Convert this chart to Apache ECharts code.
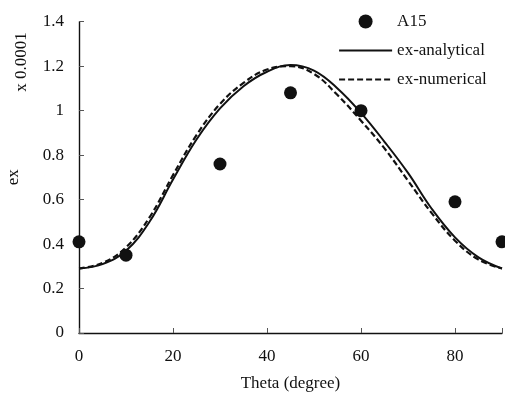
<!DOCTYPE html>
<html>
<head>
<meta charset="utf-8">
<script src="https://cdn.jsdelivr.net/npm/echarts@6/dist/echarts.min.js"></script>
<style>
  html, body { margin: 0; padding: 0; background: #fff; }
  #chart { width: 505px; height: 393px; }
</style>
</head>
<body>
<div id="chart"></div>
<script>
// Measured strain ex (units of 1e-4) at sample angles
const thetaA15 = [0, 10, 30, 45, 60, 80, 90];
const exA15 = [0.41, 0.35, 0.76, 1.08, 1.00, 0.59, 0.41];

// Model curves sampled every 5 degrees
const thetaCurve = [0, 5, 10, 15, 20, 25, 30, 35, 40, 45, 50, 55, 60, 65, 70, 75, 80, 85, 90];
const exAnalytical = [0.29, 0.31, 0.37, 0.50, 0.69, 0.87, 1.01, 1.11, 1.175, 1.205, 1.18, 1.10, 0.99, 0.86, 0.72, 0.56, 0.43, 0.34, 0.29];
const exNumerical  = [0.29, 0.315, 0.385, 0.52, 0.71, 0.89, 1.03, 1.125, 1.185, 1.20, 1.165, 1.07, 0.955, 0.83, 0.685, 0.54, 0.415, 0.33, 0.29];

const xTicks = [0, 20, 40, 60, 80];

const serif = 'Liberation Serif';
const ink = '#111';
const dash = [6, 3];
const pair = (xs, ys) => xs.map((x, i) => [x, ys[i]]);

const chart = echarts.init(document.getElementById('chart'));
chart.setOption({
  animation: false,
  backgroundColor: '#fff',
  textStyle: { fontFamily: serif, color: ink },
  grid: { left: 79, right: 3, top: 21.7, bottom: 60, outerBoundsMode: 'none', containLabel: false },
  legend: {
    orient: 'vertical',
    left: 333,
    top: 8,
    itemWidth: 53,
    itemHeight: 14,
    itemGap: 12,
    textStyle: { fontFamily: serif, fontSize: 17, color: ink },
    data: [
      { name: 'A15', icon: 'circle', itemStyle: { color: ink, opacity: 1 } },
      { name: 'ex-analytical', itemStyle: { opacity: 0 }, lineStyle: { color: ink, width: 2 } },
      { name: 'ex-numerical', itemStyle: { opacity: 0 }, lineStyle: { color: ink, width: 2.2, type: dash } }
    ]
  },
  xAxis: {
    type: 'value',
    min: 0, max: 90, interval: 20,
    name: 'Theta (degree)',
    nameLocation: 'middle',
    nameGap: 42,
    nameTextStyle: { fontFamily: serif, fontSize: 17, color: ink },
    axisLine: { lineStyle: { color: ink, width: 1.4 } },
    axisTick: { inside: true, length: 5, lineStyle: { color: '#555' } },
    axisLabel: {
      fontFamily: serif, fontSize: 17, color: ink, margin: 15,
      customValues: xTicks
    },
    splitLine: { show: false }
  },
  yAxis: {
    type: 'value',
    min: 0, max: 1.4, interval: 0.2,
    name: 'ex',
    nameLocation: 'middle',
    nameGap: 57,
    nameTextStyle: { fontFamily: serif, fontSize: 17, color: ink },
    axisLine: { show: true, lineStyle: { color: ink, width: 1.4 } },
    axisTick: { show: true, inside: true, length: 5, lineStyle: { color: '#555' } },
    axisLabel: {
      fontFamily: serif, fontSize: 17, color: ink, margin: 15,
      formatter: v => String(+v.toFixed(1))
    },
    splitLine: { show: false }
  },
  graphic: [{
    type: 'text',
    x: 22, y: 62,
    rotation: Math.PI / 2,
    style: {
      text: 'x 0.0001',
      font: '17px "Liberation Serif"',
      fill: ink,
      align: 'center',
      verticalAlign: 'middle'
    }
  }],
  series: [
    {
      name: 'ex-analytical',
      type: 'line',
      data: pair(thetaCurve, exAnalytical),
      smooth: 0.4,
      symbol: 'none',
      lineStyle: { color: ink, width: 2 },
      itemStyle: { color: ink }
    },
    {
      name: 'ex-numerical',
      type: 'line',
      data: pair(thetaCurve, exNumerical),
      smooth: 0.4,
      symbol: 'none',
      lineStyle: { color: ink, width: 2.2, type: dash },
      itemStyle: { color: ink }
    },
    {
      name: 'A15',
      type: 'scatter',
      data: pair(thetaA15, exA15),
      symbol: 'circle',
      symbolSize: 13,
      clip: false,
      itemStyle: { color: ink, opacity: 1 },
      z: 5
    }
  ]
});
</script>
</body>
</html>
